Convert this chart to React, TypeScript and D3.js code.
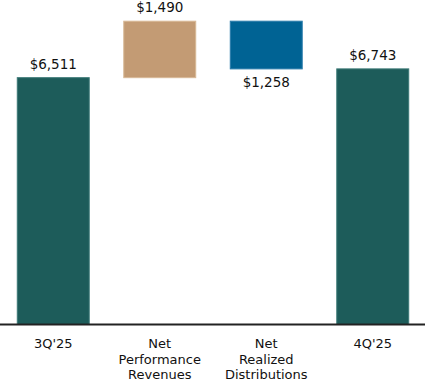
import React from "react";
import * as d3 from "d3";

const categories: string[][] = [["3Q'25"], ["Net", "Performance", "Revenues"], ["Net", "Realized", "Distributions"], ["4Q'25"]];
const values: number[] = [6511, 1490, -1258, 6743];
const kinds: string[] = ["total", "delta", "delta", "total"];
const labels: string[] = ["$6,511", "$1,490", "$1,258", "$6,743"];
const colors: string[] = ["#1d5c5a", "#c39b74", "#006394", "#1d5c5a"];
const strokes: string[] = ["#3d7a77", "#d8b896", "#2a7cab", "#3d7a77"];

const W = 427;
const H = 382;
const baseY = 324.5;

export default function App() {
  const x = d3.scaleBand<number>().domain(d3.range(4)).range([0, 426]).paddingInner(0.315).paddingOuter(0.1575);
  const y = d3.scaleLinear().domain([0, 8560]).range([baseY, 0]);

  let run = 0;
  const bars = values.map((v, i) => {
    let lo: number, hi: number;
    if (kinds[i] === "total") {
      lo = 0;
      hi = v;
      run = v;
    } else {
      const next = run + v;
      lo = Math.min(run, next);
      hi = Math.max(run, next);
      run = next;
    }
    return { i, lo, hi, v };
  });

  const font = "'DejaVu Sans', Verdana, sans-serif";

  return (
    <svg width={W} height={H} style={{ position: "absolute", left: 0, top: 0 }} fontFamily={font}>
      {bars.map((b) => {
        const x0 = x(b.i)!;
        const bw = x.bandwidth();
        const yTop = y(b.hi);
        const yBot = y(b.lo);
        const cx = x0 + bw / 2;
        const labelY = b.v < 0 ? yBot + 18 : yTop - 9;
        return (
          <g key={b.i}>
            <rect x={x0 + 0.5} y={yTop} width={bw - 1} height={yBot - yTop} fill={colors[b.i]} stroke={strokes[b.i]} strokeWidth={1} />
            <text x={cx} y={labelY} textAnchor="middle" fontSize={13.5} fill="#111">
              {labels[b.i]}
            </text>
          </g>
        );
      })}
      <line x1={0} x2={425} y1={baseY} y2={baseY} stroke="#222" strokeWidth={2} />
      {categories.map((lines, i) => (
        <text key={i} x={x(i)! + x.bandwidth() / 2} textAnchor="middle" fontSize={13} fill="#111">
          {lines.map((l, j) => (
            <tspan key={j} x={x(i)! + x.bandwidth() / 2} y={348 + j * 15.5}>
              {l}
            </tspan>
          ))}
        </text>
      ))}
    </svg>
  );
}
